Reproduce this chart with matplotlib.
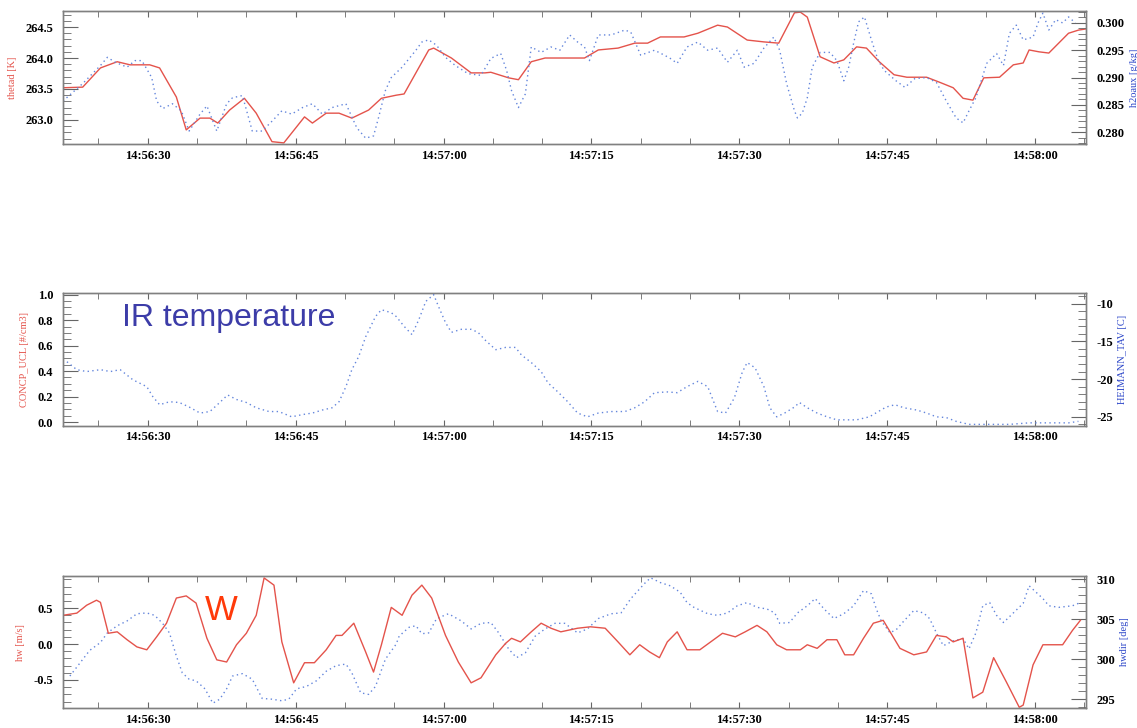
import matplotlib
matplotlib.use("Agg")
import matplotlib.pyplot as plt
from matplotlib.ticker import MultipleLocator, FuncFormatter

# time axis: seconds after 14:56:30
t_start, t_end = -8.6, 95.2
base_sec = 14 * 3600 + 56 * 60 + 30

# thetad [K]
thetad_t = [-8.6, -6.6, -4.8, -3.1, -1.8, 0.2, 1.2, 2.9, 3.9, 5.3, 6.3, 7.1, 8.3, 9.8, 11.0,
            12.6, 13.8, 14.6, 15.9, 16.7, 18.1, 19.4, 20.7, 22.4, 23.7, 25.2, 26.0, 28.5, 29.0,
            30.8, 32.8, 34.2, 34.8, 36.6, 37.6, 38.9, 40.3, 44.3, 45.7, 47.7, 49.4, 50.7, 52.0,
            54.4, 55.8, 57.8, 58.8, 60.8, 62.5, 64.0, 65.6, 66.2, 66.9, 68.2, 69.6, 70.6, 71.9,
            72.9, 74.2, 75.7, 77.0, 79.0, 80.3, 81.7, 82.7, 83.7, 84.8, 86.4, 87.8, 88.8, 89.4,
            90.4, 91.4, 92.4, 93.4, 94.4, 95.2]
thetad = [263.52, 263.53, 263.84, 263.94, 263.89, 263.89, 263.84, 263.37, 262.84, 263.03, 263.03,
          262.95, 263.16, 263.35, 263.11, 262.65, 262.63, 262.79, 263.05, 262.95, 263.11, 263.11,
          263.03, 263.16, 263.35, 263.40, 263.42, 264.13, 264.16, 264.00, 263.76, 263.76, 263.77,
          263.68, 263.65, 263.94, 264.00, 264.00, 264.13, 264.16, 264.24, 264.24, 264.34, 264.34,
          264.40, 264.53, 264.50, 264.29, 264.26, 264.24, 264.73, 264.74, 264.66, 264.02, 263.92,
          263.97, 264.18, 264.16, 263.94, 263.73, 263.69, 263.69, 263.61, 263.52, 263.35, 263.32,
          263.68, 263.69, 263.89, 263.92, 264.13, 264.10, 264.08, 264.24, 264.40, 264.45, 264.47]

# h2oaux [g/kg]
h2o_t = [-8.6, -6.6, -4.8, -4.1, -3.3, -2.1, -1.3, -0.6, 0.4, 0.9, 1.5, 2.5, 3.4, 4.2, 5.3, 6.0,
         7.0, 8.0, 8.6, 9.6, 10.6, 11.6, 12.6, 13.6, 14.6, 15.7, 16.7, 17.7, 18.7, 20.1, 21.2,
         22.1, 22.9, 23.4, 24.1, 24.7, 25.8, 27.2, 27.8, 28.5, 29.3, 30.2, 31.2, 32.5, 33.8, 34.8,
         35.8, 36.4, 36.9, 37.6, 38.3, 38.9, 39.9, 40.9, 41.8, 42.8, 43.6, 44.3, 44.8, 45.7, 47.0,
         48.4, 49.0, 50.0, 51.4, 52.4, 53.0, 53.7, 54.7, 55.8, 56.8, 57.8, 58.8, 59.8, 60.5, 61.5,
         62.5, 63.5, 64.1, 64.8, 65.6, 65.9, 66.4, 66.9, 67.4, 68.2, 69.2, 69.9, 70.6, 71.1, 71.6,
         72.1, 72.7, 73.4, 74.1, 74.7, 75.9, 76.8, 77.8, 79.0, 80.0, 81.0, 82.0, 82.7, 83.3, 84.0,
         85.1, 86.1, 86.8, 87.4, 88.1, 88.8, 89.8, 90.3, 90.8, 91.4, 92.1, 92.8, 93.4, 94.1]
h2o = [0.2857, 0.2889, 0.2922, 0.2937, 0.2928, 0.2919, 0.2931, 0.2931, 0.2900, 0.2857, 0.2843,
       0.2852, 0.2839, 0.2802, 0.2833, 0.2848, 0.2802, 0.2852, 0.2863, 0.2867, 0.2802, 0.2802,
       0.2820, 0.2839, 0.2833, 0.2845, 0.2852, 0.2833, 0.2845, 0.2852, 0.2808, 0.2789, 0.2793,
       0.2826, 0.2876, 0.2900, 0.2919, 0.2950, 0.2965, 0.2969, 0.2959, 0.2937, 0.2922, 0.2907,
       0.2904, 0.2935, 0.2944, 0.2913, 0.2876, 0.2845, 0.2870, 0.2956, 0.2946, 0.2956, 0.2950,
       0.2978, 0.2965, 0.2956, 0.2931, 0.2978, 0.2978, 0.2987, 0.2983, 0.2941, 0.2950, 0.2941,
       0.2935, 0.2926, 0.2956, 0.2965, 0.2950, 0.2954, 0.2928, 0.2950, 0.2919, 0.2926, 0.2954,
       0.2974, 0.2950, 0.2889, 0.2839, 0.2826, 0.2835, 0.2863, 0.2919, 0.2946, 0.2946, 0.2931,
       0.2894, 0.2919, 0.2963, 0.3002, 0.3011, 0.2969, 0.2931, 0.2913, 0.2894, 0.2882, 0.2898,
       0.2900, 0.2891, 0.2857, 0.2826, 0.2817, 0.2839, 0.2863, 0.2926, 0.2944, 0.2922, 0.2981,
       0.2996, 0.2969, 0.2974, 0.3000, 0.3018, 0.2987, 0.3006, 0.3000, 0.3011, 0.3000]

# HEIMANN_TAV [C]
heimann_t = [-8.2, -7.2, -6.2, -4.8, -3.8, -2.8, -1.5, -0.1, 0.5, 1.2, 2.2, 3.2, 4.2, 5.3, 6.3,
             7.3, 8.1, 9.0, 10.0, 11.0, 12.3, 13.3, 14.6, 15.7, 16.7, 17.7, 18.7, 19.4, 20.1,
             20.7, 21.4, 22.1, 23.1, 23.7, 24.7, 25.2, 26.0, 26.8, 27.5, 28.2, 29.0, 29.5, 30.2,
             30.8, 31.8, 32.8, 33.5, 34.2, 35.3, 36.3, 37.3, 37.9, 38.9, 39.9, 40.6, 41.6, 42.6,
             43.6, 44.6, 45.7, 47.0, 48.4, 49.4, 50.4, 51.4, 52.7, 53.7, 54.7, 55.8, 56.8, 57.8,
             58.6, 59.5, 60.3, 60.8, 61.6, 62.5, 63.1, 63.8, 64.6, 65.6, 66.1, 66.9, 67.9, 68.9,
             69.9, 70.9, 71.9, 73.2, 74.1, 74.9, 75.8, 76.7, 78.0, 79.0, 80.0, 81.0, 82.0, 83.3,
             85.4, 87.4, 89.4, 90.8, 92.1, 93.4, 94.4]
heimann = [-17.7, -18.75, -19.0, -18.75, -19.0, -18.75, -20.1, -21.0, -22.3, -23.4, -23.0, -23.1,
           -23.7, -24.5, -24.3, -23.1, -22.1, -22.7, -23.1, -23.8, -24.3, -24.3, -25.0, -24.7,
           -24.5, -24.1, -23.8, -23.0, -21.0, -18.75, -17.0, -14.4, -11.7, -10.8, -11.2, -11.7,
           -13.0, -14.1, -12.1, -9.7, -8.8, -10.4, -12.5, -13.8, -13.4, -13.4, -13.8, -14.8,
           -16.1, -15.8, -15.8, -16.8, -17.8, -19.0, -20.5, -21.7, -23.0, -24.5, -25.0, -24.5,
           -24.3, -24.3, -23.8, -23.0, -21.8, -21.7, -21.8, -21.0, -20.3, -21.0, -24.3, -24.5,
           -22.5, -19.1, -17.8, -18.5, -21.0, -23.8, -25.0, -24.5, -23.7, -23.1, -23.8, -24.5,
           -25.0, -25.4, -25.4, -25.4, -25.0, -24.3, -23.7, -23.4, -23.8, -24.1, -24.5, -25.0,
           -25.1, -25.6, -26.0, -26.0, -26.0, -25.8, -25.8, -25.8, -25.8, -25.6]

# hw [m/s]
hw_t = [-8.6, -7.2, -6.2, -5.2, -4.8, -4.0, -3.1, -2.1, -1.1, -0.1, 0.9, 1.9, 2.9, 3.9, 4.9, 6.0,
        7.0, 8.0, 9.0, 10.0, 11.0, 11.8, 12.8, 13.6, 14.8, 15.9, 16.9, 18.1, 19.1, 19.7, 20.9,
        22.1, 22.9, 23.7, 24.7, 25.8, 26.8, 27.8, 28.8, 30.2, 31.5, 32.8, 33.8, 35.3, 36.3, 36.9,
        37.8, 38.9, 39.9, 40.9, 41.9, 43.6, 44.9, 46.4, 47.7, 48.9, 49.9, 50.9, 51.9, 52.7, 53.7,
        54.7, 56.0, 57.1, 58.3, 59.6, 60.6, 61.8, 62.8, 63.8, 64.8, 66.2, 66.9, 67.9, 68.9, 69.9,
        70.7, 71.6, 72.6, 73.6, 74.6, 75.3, 76.3, 77.7, 79.0, 80.0, 81.0, 81.7, 82.7, 83.7, 84.7,
        85.8, 87.1, 88.4, 88.8, 89.8, 90.8, 92.1, 92.8, 93.8, 94.6]
hw = [0.40, 0.43, 0.54, 0.61, 0.58, 0.15, 0.17, 0.06, -0.04, -0.08, 0.10, 0.29, 0.64, 0.67, 0.57,
      0.08, -0.22, -0.25, -0.01, 0.15, 0.40, 0.92, 0.82, 0.03, -0.54, -0.26, -0.26, -0.08, 0.12,
      0.12, 0.29, -0.11, -0.39, -0.01, 0.51, 0.40, 0.68, 0.82, 0.64, 0.12, -0.25, -0.54, -0.47,
      -0.15, 0.01, 0.08, 0.03, 0.17, 0.29, 0.22, 0.17, 0.22, 0.24, 0.22, 0.03, -0.15, -0.01, -0.11,
      -0.19, 0.03, 0.17, -0.08, -0.08, 0.03, 0.15, 0.10, 0.17, 0.26, 0.17, -0.01, -0.08, -0.08,
      -0.01, -0.06, 0.06, 0.06, -0.15, -0.15, 0.08, 0.29, 0.33, 0.17, -0.06, -0.15, -0.11, 0.12,
      0.10, 0.03, 0.08, -0.75, -0.67, -0.19, -0.53, -0.88, -0.85, -0.29, -0.01, -0.01, -0.01,
      0.19, 0.33]

# hwdir [deg]
hwdir_t = [-7.9, -6.9, -5.9, -4.8, -4.1, -3.1, -2.1, -1.1, -0.1, 0.7, 1.5, 2.2, 2.9, 3.5, 4.2,
           4.9, 5.8, 6.6, 7.3, 8.0, 8.6, 9.6, 10.6, 11.6, 12.6, 13.6, 14.3, 15.1, 16.1, 17.1,
           18.1, 19.1, 20.1, 20.7, 21.6, 22.4, 23.1, 24.1, 25.2, 25.5, 26.5, 27.2, 27.8, 28.5,
           29.3, 30.5, 31.8, 32.8, 33.8, 34.8, 35.6, 36.6, 37.4, 38.3, 39.3, 40.3, 41.3, 42.3,
           43.6, 44.6, 45.7, 47.0, 48.0, 49.0, 50.4, 51.0, 52.0, 53.0, 54.0, 54.7, 55.4, 56.8,
           57.8, 58.8, 59.8, 60.8, 61.8, 62.8, 63.6, 64.1, 65.1, 65.9, 66.9, 67.7, 68.6, 69.6,
           70.6, 71.6, 72.6, 73.4, 73.9, 74.4, 75.3, 76.0, 76.7, 77.7, 78.7, 79.3, 80.0, 80.7,
           81.7, 82.7, 83.3, 84.0, 84.7, 85.4, 86.1, 86.8, 87.8, 88.8, 89.4, 90.1, 90.8, 91.4,
           92.4, 93.8, 94.4]
hwdir = [297.9, 299.5, 301.1, 302.1, 303.3, 304.2, 304.8, 305.7, 305.8, 305.5, 304.5, 303.3,
         300.4, 298.3, 297.5, 297.3, 296.3, 294.5, 295.0, 296.3, 297.9, 298.2, 297.5, 295.1,
         295.0, 294.8, 295.0, 296.3, 296.6, 297.3, 298.5, 299.2, 299.4, 298.3, 295.8, 295.6,
         296.6, 300.0, 301.9, 302.9, 304.0, 304.2, 303.2, 303.3, 305.1, 305.7, 304.8, 303.8,
         304.5, 304.6, 303.3, 301.3, 300.2, 300.8, 302.9, 303.8, 304.5, 304.5, 303.3, 303.8,
         305.1, 305.7, 305.8, 307.6, 309.5, 310.2, 309.6, 309.2, 308.4, 307.1, 306.5, 305.7,
         305.5, 305.8, 306.7, 307.1, 306.5, 306.3, 305.8, 304.5, 304.6, 305.8, 306.7, 307.6,
         306.3, 305.1, 305.7, 306.7, 308.6, 308.2, 306.3, 304.8, 303.3, 303.8, 304.8, 306.1,
         305.8, 305.1, 303.3, 301.7, 302.3, 302.6, 301.3, 303.3, 306.7, 307.1, 305.5, 304.6,
         305.8, 307.0, 309.2, 308.4, 307.6, 306.7, 306.5, 306.7, 307.0]

red = "#e4534b"
blue = "#6486dc"
dots = (0, (1, 2.4))
tick_font = {"family": "Liberation Serif", "size": 9, "weight": "bold"}


def clock(x, pos):
    s = int(round(base_sec + x))
    return "%d:%02d:%02d" % (s // 3600, (s // 60) % 60, s % 60)


def style_axes(ax, ax2, left_label, right_label):
    ax.set_xlim(t_start, t_end)
    ax.xaxis.set_major_locator(MultipleLocator(15))
    ax.xaxis.set_minor_locator(MultipleLocator(5))
    ax.xaxis.set_major_formatter(FuncFormatter(clock))
    for a in (ax, ax2):
        for sp in a.spines.values():
            sp.set_color("#808080")
            sp.set_linewidth(1.0)
        a.tick_params(which="both", direction="in", colors="#666666", labelcolor="black")
        a.tick_params(axis="y", which="major", length=11, width=0.8, pad=7)
        a.tick_params(axis="y", which="minor", length=6, width=0.6)
        for lab in a.get_yticklabels():
            lab.set_fontproperties(tick_font)
    ax.tick_params(axis="x", which="both", top=True, length=4, pad=4)
    for lab in ax.get_xticklabels():
        lab.set_fontproperties(tick_font)
    ax.set_ylabel(left_label, color=red, fontsize=7.5, family="Liberation Serif", labelpad=6)
    ax2.set_ylabel(right_label, color="#2a44c8", fontsize=7.5, family="Liberation Serif",
                   rotation=90, labelpad=4)


fig = plt.figure(figsize=(11.37, 7.28), dpi=100)
left, width = 0.0554, 0.900

# top panel: thetad / h2oaux
ax1 = fig.add_axes([left, 0.802, width, 0.183])
ax1b = ax1.twinx()
ax1.plot(thetad_t, thetad, color=red, lw=1.0)
ax1b.plot(h2o_t, h2o, color=blue, lw=1.0, linestyle=dots)
ax1.set_ylim(262.61, 264.76)
ax1.yaxis.set_major_locator(MultipleLocator(0.5))
ax1.yaxis.set_minor_locator(MultipleLocator(0.1))
ax1.yaxis.set_major_formatter(FuncFormatter(lambda v, p: "%.1f" % v))
ax1b.set_ylim(0.2778, 0.3022)
ax1b.yaxis.set_major_locator(MultipleLocator(0.005))
ax1b.yaxis.set_minor_locator(MultipleLocator(0.001))
ax1b.yaxis.set_major_formatter(FuncFormatter(lambda v, p: "%.3f" % v))
style_axes(ax1, ax1b, "thetad [K]", "h2oaux [g/kg]")

# middle panel: CONCP_UCL / HEIMANN_TAV
ax2 = fig.add_axes([left, 0.415, width, 0.183])
ax2b = ax2.twinx()
ax2b.plot(heimann_t, heimann, color=blue, lw=1.0, linestyle=dots)
ax2.set_ylim(-0.03, 1.016)
ax2.yaxis.set_major_locator(MultipleLocator(0.2))
ax2.yaxis.set_minor_locator(MultipleLocator(0.05))
ax2.yaxis.set_major_formatter(FuncFormatter(lambda v, p: "%.1f" % v))
ax2b.set_ylim(-26.2, -8.54)
ax2b.yaxis.set_major_locator(MultipleLocator(5))
ax2b.yaxis.set_minor_locator(MultipleLocator(1))
ax2b.yaxis.set_major_formatter(FuncFormatter(lambda v, p: "%d" % v))
style_axes(ax2, ax2b, "CONCP_UCL [#/cm3]", "HEIMANN_TAV [C]")
ax2.text(0.058, 0.81, "IR temperature", transform=ax2.transAxes, color="#3c3ca8",
         fontsize=23, family="Liberation Sans", va="center", ha="left")

# bottom panel: hw / hwdir
ax3 = fig.add_axes([left, 0.0275, width, 0.181])
ax3b = ax3.twinx()
ax3.plot(hw_t, hw, color=red, lw=1.0)
ax3b.plot(hwdir_t, hwdir, color=blue, lw=1.0, linestyle=dots)
ax3.set_zorder(ax3b.get_zorder() + 1)
ax3.patch.set_visible(False)
ax3.set_ylim(-0.89, 0.944)
ax3.yaxis.set_major_locator(MultipleLocator(0.5))
ax3.yaxis.set_minor_locator(MultipleLocator(0.1))
ax3.yaxis.set_major_formatter(FuncFormatter(lambda v, p: "%.1f" % v))
ax3b.set_ylim(293.9, 310.4)
ax3b.yaxis.set_major_locator(MultipleLocator(5))
ax3b.yaxis.set_minor_locator(MultipleLocator(1))
ax3b.yaxis.set_major_formatter(FuncFormatter(lambda v, p: "%d" % v))
style_axes(ax3, ax3b, "hw [m/s]", "hwdir [deg]")
ax3.text(0.139, 0.74, "W", transform=ax3.transAxes, color="#ff3a0a",
         fontsize=25, family="Liberation Sans", va="center", ha="left")

fig.savefig("out.png", dpi=100)
